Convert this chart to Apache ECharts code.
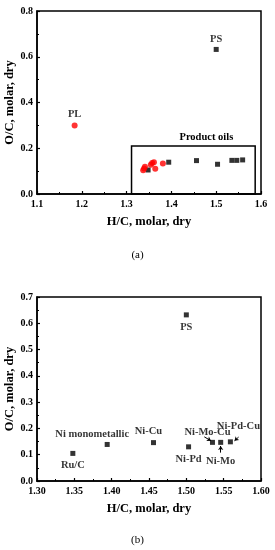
<!DOCTYPE html>
<html><head><meta charset="utf-8">
<script src="https://cdn.jsdelivr.net/npm/echarts@6/dist/echarts.min.js"></script>
<style>html,body{margin:0;padding:0;background:#fff}#c{width:275px;height:550px}</style>
</head><body><div id="c"></div>
<script>
// Catalyst-derived oils (black squares) and PS
const catalysts = ['Ru/C','Ni monometallic','Ni-Cu','Ni-Pd','Ni-Mo-Cu','Ni-Mo','Ni-Pd-Cu','PS'];
const catHC = [1.348,1.394,1.456,1.503,1.535,1.546,1.559,1.500];
const catOC = [0.105,0.139,0.146,0.130,0.147,0.147,0.149,0.632];
// Red points: PL and its product oils
const plName = ['PL'];
const plHC = [1.184];
const plOC = [0.300];
const redHC = [1.337,1.339,1.341,1.354,1.357,1.361,1.364,1.381];
const redOC = [0.104,0.112,0.119,0.128,0.136,0.139,0.110,0.133];
// Product oils region
const boxHC = [1.311,1.587];
const boxOC = [0,0.21];
// Arrows in chart (b): [fromHC, fromOC, toHC, toOC]
const arrows = [[1.524,0.168,1.533,0.153],[1.546,0.108,1.546,0.133],[1.570,0.167,1.5645,0.153]];
// Axis ticks
const xA = [1.1,1.6,0.1], yA = [0,0.8,0.2];
const xB = [1.30,1.60,0.05], yB = [0,0.7,0.1];

const FONT = 'Liberation Serif';
const labelCfgB = {
  'Ru/C':{position:'bottom',distance:4},
  'Ni monometallic':{position:'top',offset:[-15,0],distance:2},
  'Ni-Cu':{position:'top',offset:[-5,0],distance:3},
  'Ni-Pd':{position:'bottom',distance:4},
  'Ni-Mo-Cu':{position:'top',offset:[-5,0],distance:2},
  'Ni-Mo':{position:'bottom',distance:11},
  'Ni-Pd-Cu':{position:'top',offset:[8,-6],distance:2},
  'PS':{position:'bottom',distance:4}
};
const txt = {fontFamily:FONT,fontWeight:'bold',fontSize:10.5,color:'#000'};

function xAxis(g,a,dec){return {gridIndex:g,type:'value',min:a[0],max:a[1],interval:a[2],
  name:'H/C, molar, dry',nameLocation:'middle',nameGap:21,nameMoveOverlap:false,
  nameTextStyle:{fontFamily:FONT,fontWeight:'bold',fontSize:12.5,color:'#000',verticalAlign:'top'},
  axisLine:{show:true,onZero:false,lineStyle:{color:'#000',width:1.5}},
  axisTick:{inside:true,length:3,lineStyle:{color:'#000',width:1.2}},
  minorTick:{show:true,splitNumber:2,length:2,lineStyle:{color:'#000',width:1}},
  splitLine:{show:false},
  axisLabel:{fontFamily:FONT,fontWeight:'bold',fontSize:10,color:'#000',margin:5,formatter:v=>v.toFixed(dec)}};}
function yAxis(g,a){return {gridIndex:g,type:'value',min:a[0],max:a[1],interval:a[2],
  name:'O/C, molar, dry',nameLocation:'middle',nameGap:21,nameMoveOverlap:false,
  nameTextStyle:{fontFamily:FONT,fontWeight:'bold',fontSize:12.5,color:'#000'},
  axisLine:{show:true,onZero:false,lineStyle:{color:'#000',width:1.5}},
  axisTick:{inside:true,length:3,lineStyle:{color:'#000',width:1.2}},
  minorTick:{show:true,splitNumber:2,length:2,lineStyle:{color:'#000',width:1}},
  splitLine:{show:false},
  axisLabel:{fontFamily:FONT,fontWeight:'bold',fontSize:10,color:'#000',margin:4,formatter:v=>v.toFixed(1)}};}

const blackA = catalysts.map((n,i)=>({name:n,value:[catHC[i],catOC[i]],
  label:{show:n==='PS',position:'top',distance:2,formatter:'{b}',...txt}}));
const blackB = catalysts.map((n,i)=>({name:n,value:[catHC[i],catOC[i]],
  label:{show:true,formatter:'{b}',...txt,...labelCfgB[n]}}));
const redA = plName.map((n,i)=>({name:n,value:[plHC[i],plOC[i]],
  label:{show:true,position:'top',distance:3,formatter:'{b}',...txt}}))
  .concat(redHC.map((x,i)=>({name:'',value:[x,redOC[i]]})));

const chart = echarts.init(document.getElementById('c'),null,{renderer:'canvas'});
chart.setOption({
  animation:false,
  title:[
    {text:'(a)',left:'center',top:245,textStyle:{fontFamily:FONT,fontWeight:'normal',fontSize:11,color:'#000'}},
    {text:'(b)',left:'center',top:530,textStyle:{fontFamily:FONT,fontWeight:'normal',fontSize:11,color:'#000'}}
  ],
  grid:[
    {left:37,right:14,top:11,height:183,show:true,borderColor:'#000',borderWidth:1.5,backgroundColor:'transparent',outerBoundsMode:'none',containLabel:false},
    {left:37,right:14,top:297,height:184,show:true,borderColor:'#000',borderWidth:1.5,backgroundColor:'transparent',outerBoundsMode:'none',containLabel:false}
  ],
  xAxis:[xAxis(0,xA,1),xAxis(1,xB,2)],
  yAxis:[yAxis(0,yA),yAxis(1,yB)],
  series:[
    {type:'scatter',xAxisIndex:0,yAxisIndex:0,symbol:'rect',symbolSize:5,
     itemStyle:{color:'#000'},data:blackA,
     markArea:{silent:true,itemStyle:{color:'rgba(0,0,0,0)',borderColor:'#000',borderWidth:1.5},
       label:{show:true,position:'top',offset:[13,0],distance:2,...txt},
       data:[[{name:'Product oils',coord:[boxHC[0],boxOC[1]]},{coord:[boxHC[1],boxOC[0]]}]]}},
    {type:'scatter',xAxisIndex:0,yAxisIndex:0,symbol:'circle',symbolSize:6,
     itemStyle:{color:'#ff0000'},data:redA,z:3},
    {type:'scatter',xAxisIndex:1,yAxisIndex:1,symbol:'rect',symbolSize:5,
     itemStyle:{color:'#000'},data:blackB,
     markLine:{silent:true,symbol:['none','arrow'],symbolSize:4,label:{show:false},
       lineStyle:{color:'#000',width:1,type:'solid'},
       data:arrows.map(a=>[{coord:[a[0],a[1]]},{coord:[a[2],a[3]]}])}}
  ]
});
</script></body></html>
